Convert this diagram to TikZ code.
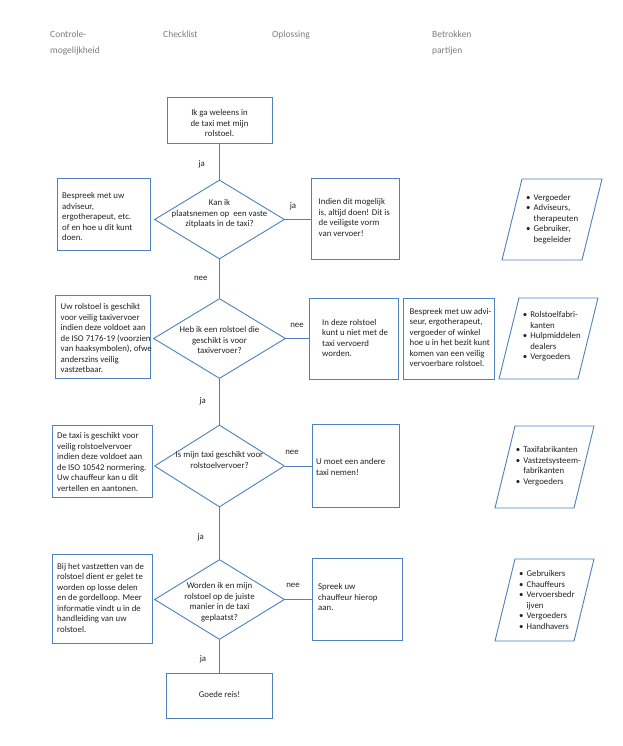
\documentclass[tikz,border=0pt]{standalone}
\usepackage{fontspec}
\setmainfont{Carlito}
\usetikzlibrary{shapes.geometric}
\definecolor{lineblue}{RGB}{79,129,189}
\definecolor{txtc}{RGB}{35,35,35}
\definecolor{hdrc}{RGB}{125,125,125}
\newcommand{\blist}[1]{\begin{tabular}[t]{@{}l@{\hspace{3pt}}l@{}}#1\end{tabular}}
\begin{document}
\begin{tikzpicture}[x=1pt,y=-1pt,
  every node/.style={text=txtc, font=\fontsize{8.8}{10.5}\selectfont},
  box/.style={draw=lineblue, line width=0.9pt, rectangle, inner sep=0pt},
  dia/.style={draw=lineblue, line width=0.9pt, diamond, inner sep=0pt},
  txtl/.style={anchor=west, align=left, inner sep=0pt},
  txtm/.style={align=center, inner sep=0pt},
  lbl/.style={inner sep=0pt},
  hdr/.style={text=hdrc, font=\fontsize{9.5}{16}\selectfont, anchor=north west, align=left, inner sep=0pt},
  conn/.style={draw=lineblue, line width=0.9pt},
  para/.style={draw=lineblue, line width=0.9pt, line join=miter},
  lst/.style={anchor=north west, inner sep=0pt}]
\useasboundingbox[fill=white] (0,0) rectangle (622,746);

% headers
\node[hdr] (h1) at (50,31) {Controle-\\mogelijkheid};
\node[hdr] (h2) at (163,31) {Checklist};
\node[hdr] (h3) at (272,31) {Oplossing};
\node[hdr] (h4) at (432,31) {Betrokken\\partijen};

% checklist column
\node[box, minimum width=105pt, minimum height=46pt] (top) at (219.5,120) {};
\node[txtm] (topt) at (219.5,123.3) {Ik ga weleens in\\de taxi met mijn\\rolstoel.};

\node[dia, minimum width=130pt, minimum height=79pt] (d1) at (219.5,219.5) {};
\node[txtm] (d1t) at (219.5,214) {Kan ik\\plaatsnemen op\ \ een vaste\\zitplaats in de taxi?};

\node[dia, minimum width=132pt, minimum height=80pt] (d2) at (219.5,338.5) {};
\node[txtm] (d2t) at (219.5,340) {Heb ik een rolstoel die\\geschikt is voor\\taxivervoer?};

\node[dia, minimum width=130pt, minimum height=82pt] (d3) at (219.5,466) {};
\node[txtm] (d3t) at (219.5,460) {Is mijn taxi geschikt voor\\rolstoelvervoer?};

\node[dia, minimum width=130pt, minimum height=80pt] (d4) at (219.5,599.5) {};
\node[txtm] (d4t) at (219.5,602) {Worden ik en mijn\\rolstoel op de juiste\\manier in de taxi\\geplaatst?};

\node[box, minimum width=106pt, minimum height=45pt] (bot) at (219.5,695.5) {};
\node[txtm] (bott) at (219.5,694) {Goede reis!};

% left column
\node[box, minimum width=93pt, minimum height=72pt] (l1) at (103.5,214) {};
\node[txtl] (l1t) at (62,216.5) {Bespreek met uw\\adviseur,\\ergotherapeut, etc.\\of en hoe u dit kunt\\doen.};

\node[box, minimum width=95pt, minimum height=83pt] (l2) at (102.5,336.5) {};
\node[txtl] (l2t) at (60.5,338) {Uw rolstoel is geschikt\\voor veilig taxivervoer\\indien deze voldoet aan\\de ISO 7176-19 (voorzien\\van haaksymbolen), ofwe\\anderszins veilig\\vastzetbaar.};

\node[box, minimum width=100pt, minimum height=72pt] (l3) at (102,461) {};
\node[txtl] (l3t) at (57,462) {De taxi is geschikt voor\\veilig rolstoelvervoer\\indien deze voldoet aan\\de ISO 10542 normering.\\Uw chauffeur kan u dit\\vertellen en aantonen.};

\node[box, minimum width=100pt, minimum height=89pt] (l4) at (102,598.5) {};
\node[txtl] (l4t) at (57,597.5) {Bij het vastzetten van de\\rolstoel dient er gelet te\\worden op losse delen\\en de gordelloop. Meer\\informatie vindt u in de\\handleiding van uw\\rolstoel.};

% solution column
\node[box, minimum width=88pt, minimum height=81pt] (r1) at (355,218.5) {};
\node[txtl] (r1t) at (318.5,217.5) {Indien dit mogelijk\\is, altijd doen! Dit is\\de veiligste vorm\\van vervoer!};

\node[box, minimum width=89pt, minimum height=81pt] (r2) at (353.5,338.5) {};
\node[txtl] (r2t) at (322,338) {In deze rolstoel\\kunt u niet met de\\taxi vervoerd\\worden.};

\node[box, minimum width=91pt, minimum height=81pt] (r2b) at (448.5,338.5) {};
\node[txtl] (r2bt) at (409.5,337.5) {Bespreek met uw advi-\\seur, ergotherapeut,\\vergoeder of winkel\\hoe u in het bezit kunt\\komen van een veilig\\vervoerbare rolstoel.};

\node[box, minimum width=87pt, minimum height=83pt] (r3) at (355.5,465.5) {};
\node[txtl] (r3t) at (316,467) {U moet een andere\\taxi nemen!};

\node[box, minimum width=90pt, minimum height=82pt] (r4) at (357,599) {};
\node[txtl] (r4t) at (318,597) {Spreek uw\\chauffeur hierop\\aan.};

% parties column
\draw[para] (522,179) -- (602,179) -- (582,260) -- (502,260) -- cycle;
\node[lst] (p1) at (526,192.8) {\blist{• & Vergoeder\\• & Adviseurs,\\ & therapeuten\\• & Gebruiker,\\ & begeleider}};

\draw[para] (519,298) -- (598,298) -- (578,379) -- (499,379) -- cycle;
\node[lst] (p2) at (522.7,310.1) {\blist{• & Rolstoelfabri-\\ & kanten\\• & Hulpmiddelen\\ & dealers\\• & Vergoeders}};

\draw[para] (515,426) -- (594,426) -- (574,508) -- (495,508) -- cycle;
\node[lst] (p3) at (515.7,445.1) {\blist{• & Taxifabrikanten\\• & Vastzetsysteem-\\ & fabrikanten\\• & Vergoeders}};

\draw[para] (515,559) -- (594,559) -- (574,641) -- (495,641) -- cycle;
\node[lst] (p4) at (519,569.4) {\blist{• & Gebruikers\\• & Chauffeurs\\• & Vervoersbedr\\ & ijven\\• & Vergoeders\\• & Handhavers}};

% connectors
\draw[conn] (top.south) -- (d1.north);
\draw[conn] (d1.south) -- (d2.north);
\draw[conn] (d2.south) -- (d3.north);
\draw[conn] (d3.south) -- (d4.north);
\draw[conn] (d4.south) -- (bot.north);
\draw[conn] (d1.east) -- (d1.east -| r1.west);
\draw[conn] (d2.east) -- (d2.east -| r2.west);
\draw[conn] (d3.east) -- (d3.east -| r3.west);
\draw[conn] (d4.east) -- (d4.east -| r4.west);

% labels
\node[lbl] (j0) at (201.7,164) {ja};
\node[lbl] (n1) at (200.7,278) {nee};
\node[lbl] (j2) at (202.7,401) {ja};
\node[lbl] (j3) at (200.7,537) {ja};
\node[lbl] (j4) at (203,659) {ja};
\node[lbl] (jr1) at (293,206.7) {ja};
\node[lbl] (nr2) at (297,325) {nee};
\node[lbl] (nr3) at (292,452) {nee};
\node[lbl] (nr4) at (293,585) {nee};
\end{tikzpicture}
\end{document}
